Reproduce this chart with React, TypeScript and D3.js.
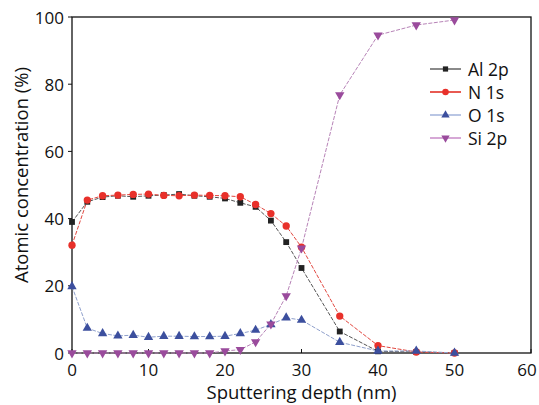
import React, { useEffect, useRef } from "react";
import * as d3 from "d3";

const depth = [0, 2, 4, 6, 8, 10, 12, 14, 16, 18, 20, 22, 24, 26, 28, 30, 35, 40, 45, 50];
const al2p = [39, 45, 46.4, 46.8, 46.5, 46.8, 47, 47.3, 46.8, 46.5, 46, 44.7, 43.5, 39.4, 33, 25.3, 6.4, 0.5, 0.3, 0];
const n1s = [32.1, 45.5, 46.8, 47, 47.2, 47.3, 46.9, 46.8, 47, 46.9, 46.8, 46.5, 44.2, 41.5, 37.8, 31.5, 11, 2.2, 0.3, 0];
const o1s = [19.8, 7.4, 5.8, 5.1, 5.3, 4.7, 5, 5, 4.9, 4.9, 5, 5.8, 6.8, 8.5, 10.5, 9.8, 3.2, 0.6, 0.6, 0];
const si2p = [0, 0, 0, 0, 0, 0, 0, 0, 0, 0, 0.6, 1, 3.3, 8.6, 17, 31.2, 76.8, 94.6, 97.6, 99.1];

const seriesNames = ["Al 2p", "N 1s", "O 1s", "Si 2p"];
const xTicks = [0, 10, 20, 30, 40, 50, 60];
const yTicks = [0, 20, 40, 60, 80, 100];

const FONT = "'Open Sans', sans-serif";

const App = () => {
  const ref = useRef<SVGSVGElement>(null);

  useEffect(() => {
    const svg = d3.select(ref.current);
    svg.selectAll("*").remove();

    const left = 72, right = 531, top = 17, bottom = 353;
    const x = d3.scaleLinear().domain([0, 60]).range([left, right]);
    const y = d3.scaleLinear().domain([0, 100]).range([bottom, top]);

    const styles = [
      { vals: al2p, line: "#555", legendLine: "#8a8a8a", fill: "#222", shape: d3.symbolSquare, size: 34, rot: 0 },
      { vals: n1s, line: "#e2473f", legendLine: "#e85a52", fill: "#e8302a", shape: d3.symbolCircle, size: 42, rot: 0 },
      { vals: o1s, line: "#8fa0cc", legendLine: "#b9c6e4", fill: "#3c4f9e", shape: d3.symbolTriangle, size: 38, rot: 0 },
      { vals: si2p, line: "#b783b7", legendLine: "#d6a8d6", fill: "#9a4b9c", shape: d3.symbolTriangle, size: 38, rot: 180 },
    ];

    // frame
    svg
      .append("rect")
      .attr("x", left)
      .attr("y", top)
      .attr("width", right - left)
      .attr("height", bottom - top)
      .attr("fill", "none")
      .attr("stroke", "#111")
      .attr("stroke-width", 1.3);

    // x ticks point inward
    const gx = svg.append("g");
    xTicks.forEach((t) => {
      gx.append("line")
        .attr("x1", x(t)).attr("x2", x(t))
        .attr("y1", bottom).attr("y2", bottom - 4)
        .attr("stroke", "#111");
      gx.append("text")
        .attr("x", Math.min(x(t), 527))
        .attr("y", bottom + 23)
        .attr("text-anchor", "middle")
        .attr("font-family", FONT)
        .attr("font-size", 17)
        .attr("fill", "#111")
        .text(t);
    });

    // y ticks point outward
    const gy = svg.append("g");
    yTicks.forEach((t) => {
      gy.append("line")
        .attr("x1", left).attr("x2", left - 4)
        .attr("y1", y(t)).attr("y2", y(t))
        .attr("stroke", "#111");
      gy.append("text")
        .attr("x", left - 8)
        .attr("y", y(t) + 6.5)
        .attr("text-anchor", "end")
        .attr("font-family", FONT)
        .attr("font-size", 17)
        .attr("fill", "#111")
        .text(t);
    });

    svg
      .append("text")
      .attr("x", (left + right) / 2)
      .attr("y", 399)
      .attr("text-anchor", "middle")
      .attr("font-family", FONT)
      .attr("font-size", 18.5)
      .attr("fill", "#111")
      .text("Sputtering depth (nm)");

    svg
      .append("text")
      .attr("transform", `translate(28, 175) rotate(-90)`)
      .attr("text-anchor", "middle")
      .attr("font-family", FONT)
      .attr("font-size", 18.5)
      .attr("fill", "#111")
      .text("Atomic concentration (%)");

    const line = d3
      .line<number>()
      .x((_, i) => x(depth[i]))
      .y((d) => y(d));

    const plot = svg.append("g");
    styles.forEach((s) => {
      plot
        .append("path")
        .attr("d", line(s.vals))
        .attr("fill", "none")
        .attr("stroke", s.line)
        .attr("stroke-width", 1)
        .attr("stroke-dasharray", "4,1.5");
    });
    styles.forEach((s) => {
      const sym = d3.symbol().type(s.shape).size(s.size);
      plot
        .selectAll(null)
        .data(s.vals)
        .enter()
        .append("path")
        .attr("d", sym)
        .attr("transform", (d, i) => `translate(${x(depth[i])},${y(d)}) rotate(${s.rot})`)
        .attr("fill", s.fill);
    });

    // legend
    const lg = svg.append("g");
    styles.forEach((s, i) => {
      const ly = 69 + i * 23;
      lg.append("line")
        .attr("x1", 430).attr("x2", 461)
        .attr("y1", ly).attr("y2", ly)
        .attr("stroke", s.legendLine)
        .attr("stroke-width", 2);
      lg.append("path")
        .attr("d", d3.symbol().type(s.shape).size(s.size * 0.8)())
        .attr("transform", `translate(445.5,${ly}) rotate(${s.rot})`)
        .attr("fill", s.fill);
      lg.append("text")
        .attr("x", 468)
        .attr("y", ly + 6.5)
        .attr("font-family", FONT)
        .attr("font-size", 17.5)
        .attr("fill", "#111")
        .text(seriesNames[i]);
    });
  }, []);

  return (
    <svg
      ref={ref}
      width={539}
      height={405}
      style={{ position: "absolute", left: 0, top: 0, background: "#fff" }}
    />
  );
};

export default App;
